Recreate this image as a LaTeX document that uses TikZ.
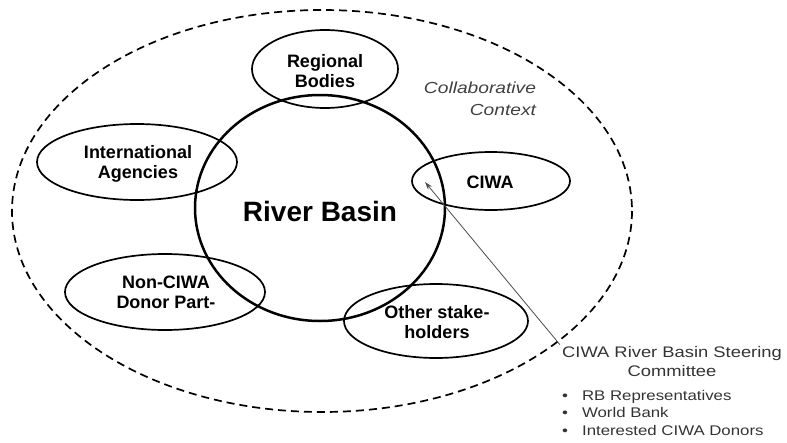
\documentclass[tikz,border=0pt]{standalone}
\usepackage{fontspec}
\setmainfont{Liberation Sans}
\newfontfamily\widefont[FakeStretch=1.2]{Liberation Sans}
\usetikzlibrary{arrows.meta}
\begin{document}
\begin{tikzpicture}[x=1pt,y=-1pt,
    party/.style={line width=1.7pt},
    lbl/.style={font=\fontsize{18}{20}\selectfont\bfseries, align=center, inner sep=0pt}]
    \useasboundingbox (0,0) rectangle (787,442);

    \draw[dash pattern=on 8pt off 5pt, line width=1.7pt] (322,211) ellipse (310 and 201);
    \node[font=\widefont\fontsize{16}{22}\selectfont\itshape, align=right, text=black!75, inner sep=0pt] (ctx) at (480,99) {Collaborative\\Context};

    \draw[line width=2.5pt] (320,208) ellipse (125 and 113);
    \node[font=\fontsize{28}{30}\selectfont\bfseries] (rb) at (320,211) {River Basin};

    \draw[party] (325,69) ellipse (73 and 39);
    \node[lbl] (reg) at (325,71) {Regional\\Bodies};

    \draw[party] (137,162) ellipse (100 and 38);
    \node[lbl] (int) at (138,164) {International\\Agencies};

    \draw[party] (491,181) ellipse (79 and 29);
    \node[lbl] (ciwa) at (490,182) {CIWA};

    \draw[party] (165,292) ellipse (100 and 38);
    \node[lbl] (don) at (166,292) {Non-CIWA\\Donor Part-};

    \draw[party] (436,321) ellipse (92 and 37);
    \node[lbl] (oth) at (437,322) {Other stake-\\holders};

    \node[font=\widefont\fontsize{15.3}{19}\selectfont, align=center, text=black!80, inner sep=2pt] (sc) at (672,362) {CIWA River Basin Steering\\Committee};
    \coordinate (tip) at (425,182);
    \draw[-{Stealth[length=8pt,width=5pt]}, black!70, line width=0.8pt] (sc.north west) -- (tip);

    \node[font=\widefont\fontsize{14}{17.5}\selectfont, align=left, anchor=north west, text=black!80, inner sep=0pt] (mem) at (562,390)
        {\textbullet\hspace{14pt}RB Representatives\\\textbullet\hspace{14pt}World Bank\\\textbullet\hspace{14pt}Interested CIWA Donors};
\end{tikzpicture}
\end{document}
